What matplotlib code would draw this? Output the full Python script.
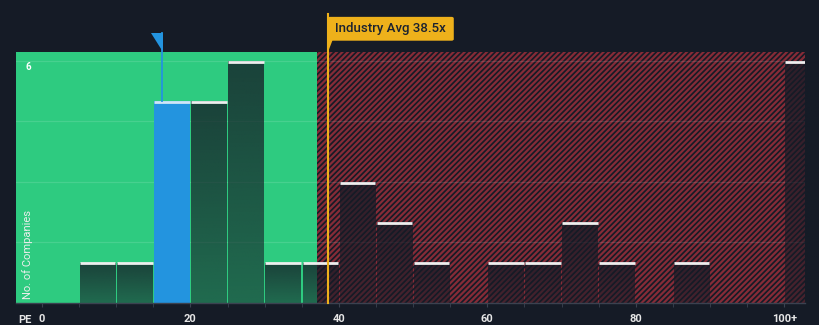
import numpy as np
import matplotlib
matplotlib.use("Agg")
import matplotlib.pyplot as plt
from matplotlib.patches import Rectangle, Polygon, FancyBboxPatch

# ---- data ----
bin_left = [0, 5, 10, 15, 20, 25, 30, 35, 40, 45, 50, 55, 60, 65, 70, 75, 80, 85, 90, 95, 100]
counts   = [0, 1, 1, 5, 5, 6, 1, 1, 3, 2, 1, 0, 1, 1, 2, 1, 0, 1, 0, 0, 6]
bin_width = 5
company_pe = 16.2
highlight_bin = 15
industry_avg = 38.5
fair_boundary = 37.0
xtick_vals = [0, 20, 40, 60, 80, 100]
xtick_labels = ["0", "20", "40", "60", "80", "100+"]
ytick_label_val = 6
grid_vals = [1.5, 3.0, 4.5, 6.0]

BG = "#151b26"
GREEN = "#2ecb80"
RED = "#862b37"
BLUE = "#2394df"
ORANGE = "#eeb11b"

plt.rcParams['font.family'] = ['Roboto', 'DejaVu Sans']
plt.rcParams['hatch.linewidth'] = 1.6
plt.rcParams['hatch.color'] = RED

fig = plt.figure(figsize=(8.2, 3.25), dpi=100, facecolor=BG)
ax = fig.add_axes([16/820, 1-303/325, (805-16)/820, (303-52)/325])
ax.set_facecolor(BG)
xmin, xmax = -3.5, 102.8
ymin, ymax = 0, 6.22
ax.set_xlim(xmin, xmax)
ax.set_ylim(ymin, ymax)

# zones
ax.add_patch(Rectangle((xmin, 0), fair_boundary - xmin, ymax, facecolor=GREEN, edgecolor='none', zorder=0))
ax.add_patch(Rectangle((fair_boundary, 0), xmax - fair_boundary, ymax, facecolor=BG,
                       edgecolor=RED, hatch='//////', linewidth=0, zorder=0))

# gridlines
for g in grid_vals:
    ax.axhline(g, color='white', alpha=0.12, lw=0.9, zorder=1)

# bars with gradient
grad = np.zeros((64, 1, 4))
grad[..., 0] = 21/255; grad[..., 1] = 27/255; grad[..., 2] = 38/255
grad[:, 0, 3] = np.linspace(0.78, 0.55, 64)  # top -> bottom (origin upper)
for left, c in zip(bin_left, counts):
    if c == 0:
        continue
    x0 = left + 0.1
    w = bin_width - 0.2
    if left == highlight_bin:
        ax.add_patch(Rectangle((x0, 0), w, c, facecolor=BLUE, edgecolor='none', zorder=2))
        ax.plot([x0, x0 + w], [c - 0.02, c - 0.02], color="#cfe6f7", lw=2, zorder=3, solid_capstyle='butt')
        continue
    rect = Rectangle((x0, 0), w, c, facecolor='none', edgecolor='none', zorder=2)
    ax.add_patch(rect)
    im = ax.imshow(grad, extent=(x0, x0 + w, 0, c), aspect='auto', zorder=2, interpolation='bilinear')
    im.set_clip_path(rect)
    ax.plot([x0, x0 + w], [c - 0.02, c - 0.02], color="#eeeeee", lw=2, zorder=3, solid_capstyle='butt')

# restore limits after imshow
ax.set_xlim(xmin, xmax)
ax.set_ylim(ymin, ymax)

# company marker
trans = ax.get_xaxis_transform()
ax.plot([company_pe, company_pe], [counts[bin_left.index(highlight_bin)], ymax], color=BLUE, lw=1.3, zorder=4)
ax.add_patch(Polygon([(company_pe - 1.45, 1.076), (company_pe + 0.1, 1.076), (company_pe + 0.1, 1.0)],
                     closed=True, facecolor=BLUE, edgecolor='none', transform=trans, clip_on=False, zorder=5))
ax.plot([company_pe, company_pe], [1.0, 1.076], color=BLUE, lw=1.3, transform=trans, clip_on=False, zorder=5)

# industry average
ax.plot([industry_avg, industry_avg], [0, 1.15], color=ORANGE, lw=1.5, transform=trans, clip_on=False, zorder=6)
ax.add_patch(Polygon([(industry_avg, 1.0), (industry_avg, 1.05), (industry_avg + 0.7, 1.05)], closed=True,
                     facecolor=ORANGE, edgecolor='none', transform=trans, clip_on=False, zorder=6))
box_x0 = industry_avg
box_w = 126 / 7.42
ax.add_patch(FancyBboxPatch((box_x0, 1.045), box_w, 0.095, boxstyle="round,pad=0,rounding_size=0.3",
                            facecolor=ORANGE, edgecolor='none', transform=trans, clip_on=False, zorder=6,
                            mutation_aspect=0.02))
ax.text(box_x0 + box_w / 2, 1.093, f"Industry Avg {industry_avg}x", transform=trans, ha='center', va='center',
        fontsize=9.5, color="#1b2230", fontweight='medium', zorder=7)

# axes styling
for s in ['top', 'right', 'left']:
    ax.spines[s].set_visible(False)
ax.spines['bottom'].set_color('#3b4250')
ax.spines['bottom'].set_linewidth(1)
ax.set_yticks([])
ax.set_xticks(np.arange(0, 101, 5), minor=True)
ax.set_xticks(xtick_vals)
ax.set_xticklabels(xtick_labels)
ax.tick_params(axis='x', which='both', length=3, color='#3b4250', labelcolor='#e6e6e6', labelsize=8, pad=5)
for lbl in ax.get_xticklabels():
    lbl.set_fontweight('bold')
fig.text(18/820, 1 - 320/325, "PE", ha='left', va='center', fontsize=8,
         color='#e6e6e6', fontweight='bold')
ax.text(-1.9, ytick_label_val - 0.16, str(ytick_label_val), ha='center', va='center', fontsize=7,
        color='white', fontweight='bold', zorder=8)
ax.text(-2.0, 1.2, "No. of Companies", rotation=90, ha='center', va='center', fontsize=8,
        color='#eeeeee', zorder=8)

fig.savefig("out.png", dpi=100, facecolor=BG)
